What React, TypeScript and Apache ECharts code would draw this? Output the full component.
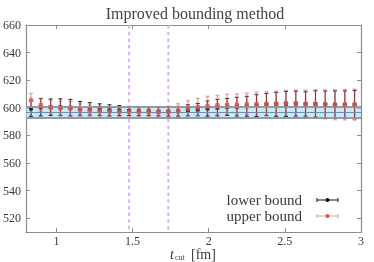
import React, { useEffect, useRef } from "react";
import * as echarts from "echarts";

const tValues = [0.833, 0.897, 0.962, 1.026, 1.091, 1.155, 1.219, 1.284, 1.348, 1.413, 1.477, 1.541, 1.606, 1.670, 1.735, 1.799, 1.863, 1.928, 1.992, 2.057, 2.121, 2.185, 2.250, 2.314, 2.379, 2.443, 2.507, 2.572, 2.636, 2.701, 2.765, 2.829, 2.894, 2.958];
const lowerVals = [599.4, 600.4, 600.4, 600.4, 600.1, 599.6, 599.2, 598.7, 598.2, 598.0, 597.7, 597.5, 597.5, 597.2, 597.2, 597.5, 598.2, 598.7, 599.4, 600.1, 600.6, 600.8, 601.1, 601.6, 602.3, 602.5, 602.8, 603.0, 602.8, 602.8, 602.5, 602.3, 602.3, 602.3];
const lowerErrs = [5.6, 6.3, 6.0, 6.1, 6.0, 5.0, 4.5, 4.2, 4.0, 3.6, 3.3, 3.1, 3.0, 3.0, 3.2, 3.5, 4.0, 4.5, 5.5, 6.0, 6.2, 6.8, 7.2, 7.9, 8.0, 8.7, 9.1, 9.0, 8.8, 9.5, 9.6, 9.9, 10.0, 10.3];
const upperVals = [605.6, 602.3, 600.4, 599.6, 599.4, 598.4, 598.0, 597.5, 597.2, 597.0, 597.0, 597.0, 597.0, 597.0, 597.2, 598.0, 599.6, 600.6, 601.6, 602.0, 602.5, 602.5, 602.8, 602.8, 603.0, 603.2, 603.5, 603.2, 602.8, 602.8, 602.5, 602.3, 602.3, 602.3];
const upperErrs = [4.8, 4.5, 5.0, 5.0, 5.0, 4.5, 4.0, 3.8, 3.5, 3.3, 3.2, 3.2, 3.3, 3.5, 3.8, 5.0, 5.6, 6.2, 6.7, 7.0, 7.3, 7.5, 7.7, 8.4, 8.6, 8.9, 9.1, 9.7, 10.0, 10.3, 10.5, 10.8, 11.0, 11.2];
const bandLow = 592.9;
const bandMid = 596.7;
const bandHigh = 601.1;
const cutLines = [1.477, 1.735];
const yTicks = [520, 540, 560, 580, 600, 620, 640, 660];
const xTicks = [1, 1.5, 2, 2.5, 3];
const legendNames = ["lower bound", "upper bound"];

const FONT = "Liberation Serif";
const TXT = "#3a3a3a";
const AXIS = "#8c8c8c";
const Y_MIN = 510;
const Y_MAX = 660;

function errRender(stroke: string, width: number, cap: number) {
  return (params: any, api: any) => {
    const x = api.value(0);
    const y = api.value(1);
    const e = api.value(2);
    const top = api.coord([x, y + e]);
    const bot = api.coord([x, y - e]);
    return {
      type: "group",
      children: [
        { type: "line", shape: { x1: top[0], y1: top[1], x2: bot[0], y2: bot[1] }, style: { stroke, lineWidth: width } },
        { type: "line", shape: { x1: top[0] - cap, y1: top[1], x2: top[0] + cap, y2: top[1] }, style: { stroke, lineWidth: width } },
        { type: "line", shape: { x1: bot[0] - cap, y1: bot[1], x2: bot[0] + cap, y2: bot[1] }, style: { stroke, lineWidth: width } },
      ],
    };
  };
}

function vlineRender(params: any, api: any) {
  const x = api.value(0);
  const top = api.coord([x, Y_MAX]);
  const bot = api.coord([x, Y_MIN]);
  return {
    type: "line",
    shape: { x1: top[0], y1: top[1], x2: bot[0], y2: bot[1] },
    style: { stroke: "#dcb0f6", lineWidth: 2, lineDash: [3.5, 3.2] },
  };
}

export default function App() {
  const ref = useRef<HTMLDivElement>(null);
  useEffect(() => {
    if (!ref.current) return;
    const chart = echarts.init(ref.current, undefined, { renderer: "svg" });
    const lowerErrData = tValues.map((t, i) => [t, lowerVals[i], lowerErrs[i]]);
    const upperErrData = tValues.map((t, i) => [t, upperVals[i], upperErrs[i]]);
    const lowerPts = tValues.map((t, i) => [t, lowerVals[i]]);
    const upperPts = tValues.map((t, i) => [t, upperVals[i]]);
    const legendY = [200, 216];
    const legendColors = ["#111", "#dd5555"];
    const g: any[] = [];
    legendNames.forEach((n, i) => {
      g.push({
        type: "text",
        x: 302,
        y: legendY[i],
        style: { text: n, font: `15px "${FONT}"`, fill: TXT, align: "right", verticalAlign: "middle" },
      });
      const c = i === 0 ? "#111" : "rgba(221,85,85,0.6)";
      g.push({ type: "line", shape: { x1: 317, y1: legendY[i], x2: 338, y2: legendY[i] }, style: { stroke: c, lineWidth: 1 } });
      g.push({ type: "line", shape: { x1: 317, y1: legendY[i] - 2, x2: 317, y2: legendY[i] + 2 }, style: { stroke: c, lineWidth: 1 } });
      g.push({ type: "line", shape: { x1: 338, y1: legendY[i] - 2, x2: 338, y2: legendY[i] + 2 }, style: { stroke: c, lineWidth: 1 } });
      g.push({ type: "circle", shape: { cx: 327.5, cy: legendY[i], r: 2 }, style: { fill: legendColors[i] } });
    });
    // x axis title t_cut [fm]
    g.push({ type: "text", x: 174, y: 254.5, style: { text: "t", font: `italic 14px "${FONT}"`, fill: TXT, align: "right", verticalAlign: "middle" } });
    g.push({ type: "text", x: 175, y: 257, style: { text: "cut", font: `8px "${FONT}"`, fill: TXT, align: "left", verticalAlign: "middle" } });
    g.push({ type: "text", x: 191, y: 254.5, style: { text: "[fm]", font: `14px "${FONT}"`, fill: TXT, align: "left", verticalAlign: "middle" } });
    // title
    g.push({ type: "text", x: 195, y: 13, style: { text: "Improved bounding method", font: `16px "${FONT}"`, fill: "#444", align: "center", verticalAlign: "middle" } });

    chart.setOption({
      animation: false,
      grid: { left: 26, right: 13, top: 25, bottom: 30 },
      xAxis: [
        {
          type: "value",
          min: 0.8,
          max: 3,
          splitLine: { show: false },
          axisLine: { show: true, onZero: false, lineStyle: { color: AXIS, width: 1.2 } },
          axisTick: { inside: true, length: 4, customValues: xTicks, lineStyle: { color: AXIS } },
          axisLabel: { customValues: xTicks, fontFamily: FONT, fontSize: 12, color: TXT, margin: 3, formatter: (v: number) => String(v) },
        },
        {
          type: "value",
          position: "top",
          min: 0.8,
          max: 3,
          splitLine: { show: false },
          axisLine: { show: true, onZero: false, lineStyle: { color: AXIS, width: 1.2 } },
          axisTick: { inside: true, length: 4, customValues: xTicks, lineStyle: { color: AXIS } },
          axisLabel: { show: false },
        },
      ],
      yAxis: [
        {
          type: "value",
          min: Y_MIN,
          max: Y_MAX,
          splitLine: { show: false },
          axisLine: { show: true, onZero: false, lineStyle: { color: AXIS, width: 1.2 } },
          axisTick: { inside: true, length: 4, customValues: yTicks, lineStyle: { color: AXIS } },
          axisLabel: { customValues: yTicks, fontFamily: FONT, fontSize: 12, color: TXT, margin: 5 },
        },
        {
          type: "value",
          position: "right",
          min: Y_MIN,
          max: Y_MAX,
          splitLine: { show: false },
          axisLine: { show: true, onZero: false, lineStyle: { color: AXIS, width: 1.2 } },
          axisTick: { inside: true, length: 4, customValues: yTicks, lineStyle: { color: AXIS } },
          axisLabel: { show: false },
        },
      ],
      series: [
        {
          type: "line",
          data: [],
          silent: true,
          markArea: {
            silent: true,
            itemStyle: { color: "rgba(173,216,230,0.6)" },
            data: [[{ yAxis: bandLow }, { yAxis: bandHigh }]],
          },
          markLine: {
            silent: true,
            symbol: "none",
            label: { show: false },
            data: [
              { yAxis: bandLow, lineStyle: { color: "#8a9fb4", width: 2, type: "solid" } },
              { yAxis: bandHigh, lineStyle: { color: "#8a9fb4", width: 2, type: "solid" } },
              { yAxis: bandMid, lineStyle: { color: "#5f93bd", width: 1, type: "solid" } },
            ],
          },
        },
        {
          type: "custom",
          renderItem: vlineRender,
          data: cutLines.map((c) => [c]),
          silent: true,
          z: 2,
        },
        {
          type: "custom",
          renderItem: errRender("#222", 1, 2),
          data: lowerErrData,
          z: 3,
        },
        {
          type: "scatter",
          data: lowerPts,
          symbol: "rect",
          symbolSize: 4,
          itemStyle: { color: "#111" },
          z: 4,
        },
        {
          type: "custom",
          renderItem: errRender("rgba(221,85,85,0.45)", 1.6, 2),
          data: upperErrData,
          z: 5,
        },
        {
          type: "scatter",
          data: upperPts,
          symbol: "circle",
          symbolSize: 5,
          itemStyle: { color: "#dd5555" },
          z: 6,
        },
      ],
      graphic: g,
    });
    return () => chart.dispose();
  }, []);
  return <div ref={ref} style={{ position: "fixed", left: 0, top: 0, width: 374, height: 262 }} />;
}
